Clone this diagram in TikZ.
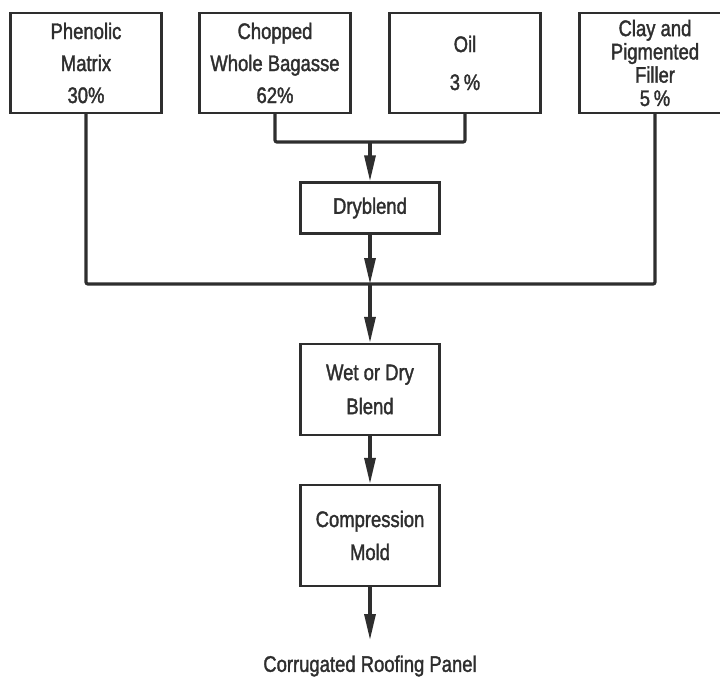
\documentclass[tikz,border=0pt]{standalone}
\usepackage{fontspec}
\setmainfont{Liberation Sans}[FakeStretch=0.82, FakeBold=1.6]
\usetikzlibrary{arrows.meta}
\definecolor{ink}{HTML}{2E2E2E}
\begin{document}
\begin{tikzpicture}[x=1pt,y=-1pt,
  box/.style={draw=ink, line width=2.4pt, inner sep=0pt, align=center, text=ink},
  wide/.style={box, minimum width=151pt, minimum height=100pt},
  narrow/.style={box, minimum width=139pt},
  wire/.style={draw=ink, line width=3.2pt, rounded corners=2pt},
  flow/.style={wire, -{Triangle[length=26pt,width=11pt]}},
  txt/.style={font=\fontsize{22.5}{#1}\selectfont},
  txt/.default=32
]
\useasboundingbox (0,0) rectangle (720,677);
\clip (0,0) rectangle (720,677);

% raw material boxes
\node[wide, txt] (phen) at (86,63) {Phenolic\\Matrix\\30\%};
\node[wide, txt] (bag) at (275,63) {Chopped\\Whole Bagasse\\62\%};
\node[wide, txt=38] (oil) at (465,63) {Oil\\3\,\%};
\node[wide, txt=23.3] (clay) at (655,63) {Clay and\\Pigmented\\Filler\\5\,\%};

% process boxes
\node[narrow, minimum height=51pt, txt] (dry) at (370,208) {Dryblend};
\node[narrow, minimum height=91pt, txt=34] (wet) at (370,389.5) {Wet or Dry\\Blend};
\node[narrow, minimum height=101pt, txt=33] (comp) at (370,535.5) {Compression\\Mold};

% junction points
\coordinate (j1) at (370,142);
\coordinate (bus) at (370,284);
\coordinate (out) at (370,640);

% bagasse and oil merge into the dryblend
\draw[wire] (bag.south) |- (j1) -| (oil.south);
\draw[flow] (j1) -- (dry);

% matrix and filler join the dryblend
\draw[wire] (phen.south) |- (bus) -| (clay.south);
\draw[flow] (dry) -- (bus);
\draw[flow] (bus) -- (wet);
\draw[flow] (wet) -- (comp);
\draw[flow] (comp) -- (out);

\node[txt, text=ink] (prod) at (370,666) {Corrugated Roofing Panel};
\end{tikzpicture}
\end{document}
